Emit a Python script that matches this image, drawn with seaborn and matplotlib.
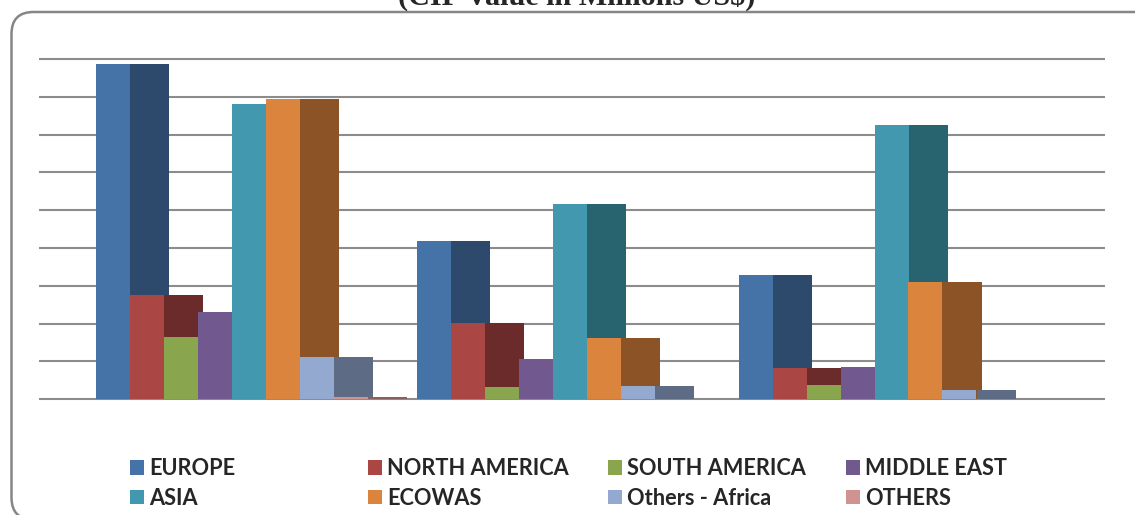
import numpy as np
import pandas as pd
import matplotlib
matplotlib.use("Agg")
import matplotlib.pyplot as plt
import seaborn as sns
from matplotlib.patches import Patch, FancyBboxPatch

# ---------------- data ----------------
groups = ["Period 1", "Period 2", "Period 3"]
series = ["EUROPE", "NORTH AMERICA", "SOUTH AMERICA", "MIDDLE EAST",
          "ASIA", "ECOWAS", "Others - Africa", "OTHERS"]
europe = [887, 419, 328]
north_america = [275, 203, 84]
south_america = [164, 33, 37]
middle_east = [230, 107, 86]
asia = [780, 517, 725]
ecowas = [794, 163, 310]
others_africa = [113, 35, 25]
others = [5, 0, 0]
y_ticks = [0, 100, 200, 300, 400, 500, 600, 700, 800, 900]
title = "(CIF Value in Millions US$)"

front_colors = ["#4572A7", "#AA4643", "#89A54E", "#71588F",
                "#4198AF", "#DB843D", "#93A9CF", "#D19392"]
side_colors = ["#2D4A6C", "#6B2B2A", "#5A6E33", "#4A3A5E",
               "#286370", "#8C5426", "#5E6B85", "#8A5F5F"]

values = [europe, north_america, south_america, middle_east,
          asia, ecowas, others_africa, others]

df = pd.DataFrame({
    "group": [g for s in series for g in groups],
    "series": [s for s in series for g in groups],
    "value": [v for vals in values for v in vals],
})

# ---------------- figure ----------------
sns.set_theme(style="white")
W, H = 1135, 515
fig = plt.figure(figsize=(W / 100, H / 100), dpi=100)
base_px, top_px, left_px, right_px = 399.3, 59.0, 39.0, 1105.0
ax = fig.add_axes([left_px / W, (H - base_px) / H,
                   (right_px - left_px) / W, (base_px - top_px) / H])

group_pitch = 321.5           # px between groups
front_w_px, side_w_px = 34.0, 39.0
sns.barplot(data=df, x="group", y="value", hue="series", order=groups,
            hue_order=series, palette=front_colors, saturation=1,
            width=8 * front_w_px / group_pitch, dodge=True, legend=False,
            errorbar=None, linewidth=0, ax=ax)

side_w = side_w_px / group_pitch
front_containers = list(ax.containers)
for i, cont in enumerate(front_containers):
    for j, bar in enumerate(cont.patches):
        bar.set_zorder(2 + 2 * i)
        ax.bar(bar.get_x() + bar.get_width(), values[i][j], width=side_w,
               align="edge", color=side_colors[i], linewidth=0,
               zorder=3 + 2 * i)

ax.hlines(y_ticks, 0, 1, transform=ax.get_yaxis_transform(),
          colors="#8c8c8c", linewidth=1.5, zorder=1, clip_on=False)

c0 = 95.5 + 4 * front_w_px   # px of first category center
ax.set_xlim((left_px - c0) / group_pitch, (right_px - c0) / group_pitch)
ax.set_ylim(0, 900)
ax.set_axis_off()

# chart border (rounded), partly outside the canvas like the reference
bx0, bx1, by_top, by_bot = 11.5, 1160, 12.0, 519.6
border = FancyBboxPatch((bx0, H - by_bot), bx1 - bx0, by_bot - by_top,
                        boxstyle="round,pad=0,rounding_size=22",
                        transform=None, facecolor="none",
                        edgecolor="#868686", linewidth=1.8)
fig.add_artist(border)

# title (clipped at the top like the reference)
fig.text(577 / W, 1 - 5 / H, title, ha="center", va="baseline",
         fontfamily="Liberation Serif", fontweight="bold", fontsize=21.7)

# legend: four columns of two entries
order_cols = [(0, 4), (1, 5), (2, 6), (3, 7)]
col_x = [130, 368, 608, 846]
fs = 15.7
fs_px = fs * 100 / 72
for (a, b), x in zip(order_cols, col_x):
    handles = [Patch(facecolor=front_colors[k], edgecolor="none", label=series[k])
               for k in (a, b)]
    fig.legend(handles=handles, loc="center left",
               bbox_to_anchor=(x / W, 1 - 483.5 / H),
               frameon=False, borderpad=0, borderaxespad=0,
               handlelength=14 / fs_px, handleheight=14 / fs_px,
               handletextpad=5 / fs_px, labelspacing=0.4,
               prop={"family": "Lato", "weight": "bold", "size": fs})

fig.savefig("out.png", dpi=100)
